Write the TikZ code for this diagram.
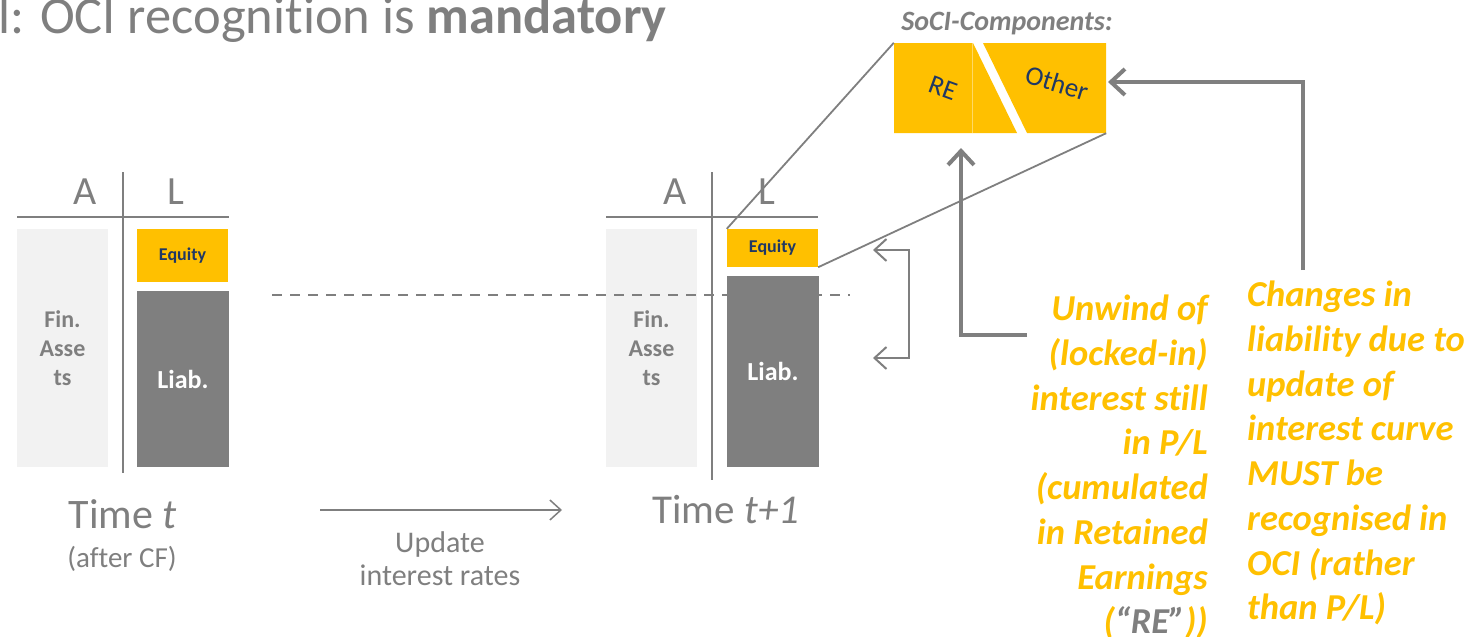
\documentclass[tikz,border=0pt]{standalone}
\usepackage{fontspec}
\setmainfont{Carlito}[Ligatures=CommonOff]
\usetikzlibrary{arrows.meta}
\definecolor{gr}{HTML}{7F7F7F}
\definecolor{lgr}{HTML}{F2F2F2}
\definecolor{yel}{HTML}{FFC000}
\definecolor{dblue}{HTML}{203864}
\tikzset{
  finbox/.style={rectangle,fill=lgr,draw=none,text=gr,inner sep=0pt,align=center,
     font=\fontsize{24}{29}\selectfont\bfseries},
  eqbox/.style={rectangle,fill=yel,draw=none,text=dblue,inner sep=0pt,
     font=\fontsize{18}{22}\selectfont\bfseries},
  libox/.style={rectangle,fill=gr,draw=none,text=white,inner sep=0pt,
     font=\fontsize{26}{30}\selectfont\bfseries},
  hdr/.style={text=gr,inner sep=0pt,font=\fontsize{40}{44}\selectfont},
  sheetline/.style={draw=gr,line width=2.5pt},
  thinline/.style={draw=gr,line width=1.8pt},
  heavyarr/.style={draw=gr,line width=4pt,-{Straight Barb[length=14pt,width=26pt,line width=4pt]}},
  bracketarr/.style={draw=gr,line width=2pt,{Straight Barb[length=12pt,width=22pt,line width=2pt]}-{Straight Barb[length=12pt,width=22pt,line width=2pt]}},
  updarr/.style={draw=gr,line width=1.5pt,-{Straight Barb[length=11pt,width=20pt,line width=1.5pt]}},
  note/.style={text=yel,inner sep=0pt,font=\fontsize{36.5}{44.7}\selectfont\bfseries\itshape},
  graytext/.style={text=gr,inner sep=0pt},
}
\begin{document}
\begin{tikzpicture}[x=1pt,y=-1pt]
\useasboundingbox (0,0) rectangle (1481,637);

% title
\node[graytext,anchor=base east,font=\fontsize{52.5}{58}\selectfont] (title) at (667,33) {l: OCI recognition is \textbf{mandatory}};

% ---- balance sheet at t ----
\node[hdr] (A1) at (85,192) {A};
\node[hdr] (L1) at (176,192) {L};
\draw[sheetline] (17,217) -- (229,217);
\draw[sheetline] (123,172) -- (123,473);
\node[finbox,minimum width=91pt,minimum height=238pt] (fin1) at (62.5,348) {Fin.\\Asse\\ts};
\node[eqbox,minimum width=91pt,minimum height=53pt] (eq1) at (182.5,255.5) {Equity};
\node[libox,minimum width=92pt,minimum height=176pt] (li1) at (183,379) {Liab.};

% ---- balance sheet at t+1 ----
\node[hdr] (A2) at (675,192) {A};
\node[hdr] (L2) at (767,192) {L};
\draw[sheetline] (606,217) -- (818,217);
\draw[sheetline] (712,172) -- (712,480);
\node[finbox,minimum width=91pt,minimum height=238pt] (fin2) at (651.5,348) {Fin.\\Asse\\ts};
\draw[gr,line width=1.8pt,dash pattern=on 10pt off 8pt] (272,295) -- (850,295);
\node[eqbox,minimum width=91pt,minimum height=38pt] (eq2) at (772.5,248) {Equity};
\node[libox,minimum width=92pt,minimum height=191pt] (li2) at (773,371.5) {Liab.};

% bracket arrows
\coordinate (bt) at (873,250);
\coordinate (bb) at (873,358);
\draw[bracketarr] (bt) -- (909,250) -- (909,358) -- (bb);

% ---- SoCI components ----
\node[inner sep=0pt,minimum width=212pt,minimum height=90pt] (soci) at (1000,88) {};
\fill[yel] (894,43) -- (973,43) -- (1017,133) -- (894,133) -- cycle;
\fill[yel] (983,43) -- (1106,43) -- (1106,133) -- (1027,133) -- cycle;
\draw[color=yel!60!white,line width=0.8pt] (972.5,43) -- (972.5,133);
\node[text=dblue,inner sep=0pt,rotate=-20,font=\fontsize{27}{30}\selectfont] (re) at (943,88) {RE};
\node[text=dblue,inner sep=0pt,rotate=-17,font=\fontsize{27}{30}\selectfont] (other) at (1057,83) {Other};
\node[graytext,font=\fontsize{28}{32}\selectfont\bfseries\itshape] (socil) at (1007,24) {SoCI-Components:};

% zoom lines
\draw[thinline] (eq2.north west) -- (soci.north west);
\draw[thinline] (eq2.south east) -- (soci.south east);

% notes
\node[note,anchor=north east,align=right] (unwind) at (1208,295)
  {Unwind of\\(locked-in)\\interest still\\in P/L\\(cumulated\\in Retained\\Earnings\\({\color{gr}“RE”}))};
\node[note,anchor=north west,align=left] (changes) at (1247,281)
  {Changes in\\liability due to\\update of\\interest curve\\MUST be\\recognised in\\OCI (rather\\than P/L)};

\coordinate (uwstart) at (1027,335);
\coordinate (retip) at (961,148);
\draw[heavyarr] (uwstart) -| (retip);
\coordinate (chstart) at (1303,270);
\coordinate (othtip) at (1108,82);
\draw[heavyarr] (chstart) |- (othtip);

% time labels
\node[graytext,anchor=base,font=\fontsize{42}{46}\selectfont] (t1) at (123,528) {Time \textit{t}};
\node[graytext,anchor=base,font=\fontsize{29}{34}\selectfont] (t1b) at (122,567) {(after CF)};
\node[graytext,anchor=base,font=\fontsize{41}{46}\selectfont] (t2) at (726,523) {Time \textit{t+1}};

\coordinate (ua) at (320,510);
\coordinate (ub) at (562,510);
\draw[updarr] (ua) -- (ub);
\node[graytext,anchor=base,align=center,font=\fontsize{30}{33}\selectfont] (upd) at (440,585) {Update\\interest rates};
\end{tikzpicture}
\end{document}
